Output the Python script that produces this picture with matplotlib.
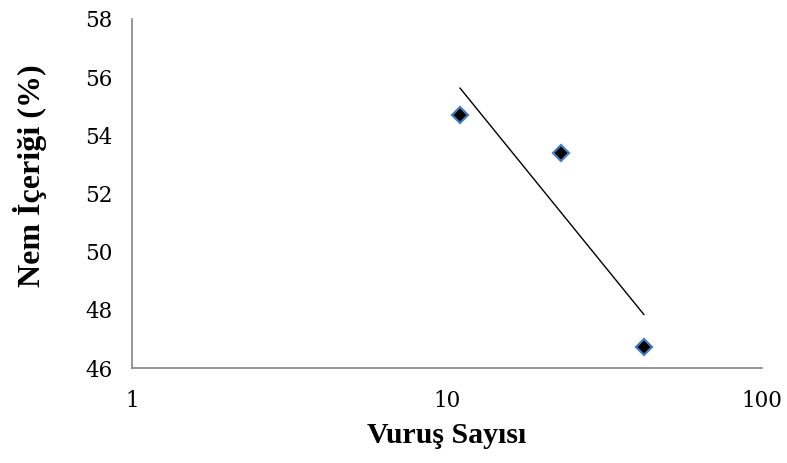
import numpy as np
import matplotlib
matplotlib.use("Agg")
import matplotlib.pyplot as plt

# blow count vs moisture content (liquid limit test)
blows = [11, 23, 42.2]
moisture = [54.7, 53.4, 46.72]

fig = plt.figure(figsize=(7.87, 4.63), dpi=100)
ax = fig.add_axes([0.168, 0.205, 0.8, 0.754])

ax.set_xscale("log")
ax.set_xlim(1, 100)
ax.set_ylim(46, 58)
ax.set_yticks(np.arange(46, 59, 2))
ax.set_xticks([1, 10, 100])
ax.set_xticklabels(["1", "10", "100"])
ax.minorticks_off()

ax.plot(blows, moisture, linestyle="none", marker="D", markersize=8,
        markerfacecolor="black", markeredgecolor="#4a7ebb", markeredgewidth=1.6,
        zorder=3)

# logarithmic trendline (Excel style)
slope, icpt = np.polyfit(np.log(blows), moisture, 1)
xt = np.array([min(blows), max(blows)])
ax.plot(xt, icpt + slope * np.log(xt), color="black", linewidth=1)

for s in ["top", "right"]:
    ax.spines[s].set_visible(False)
for s in ["left", "bottom"]:
    ax.spines[s].set_color("#868686")
    ax.spines[s].set_linewidth(1.2)
ax.tick_params(length=0, labelsize=15.5)
ax.tick_params(axis="x", pad=16)
ax.tick_params(axis="y", pad=14)
for lab in ax.get_xticklabels() + ax.get_yticklabels():
    lab.set_family("DejaVu Serif")

ax.set_xlabel("Vuruş Sayısı", fontsize=21.5, fontweight="bold",
              family="Liberation Serif", va="center")
ax.xaxis.set_label_coords(0.5, -0.192)
ax.set_ylabel("Nem İçeriği (%)", fontsize=23, fontweight="bold",
              family="Liberation Serif", va="center")
ax.yaxis.set_label_coords(-0.162, 0.55)

fig.savefig("out.png", dpi=100)
